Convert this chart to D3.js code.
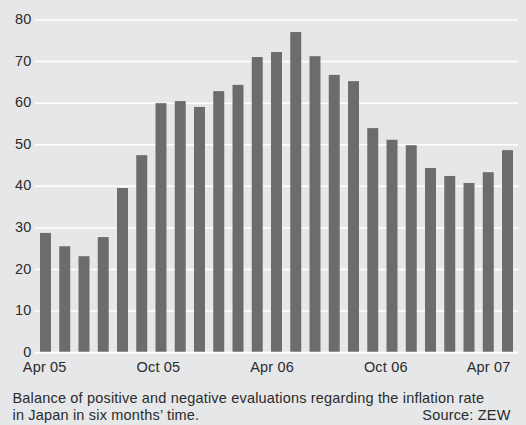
<!DOCTYPE html>
<html>
<head>
<meta charset="utf-8">
<script src="https://cdn.jsdelivr.net/npm/d3@7"></script>
<style>
  html, body { margin: 0; padding: 0; background: #e6e7e9; }
  svg { display: block; }
  text { font-family: "Liberation Sans", Arial, sans-serif; fill: #2b2b2b; letter-spacing: 0.18px; }
</style>
</head>
<body>
<svg id="chart" width="526" height="425"></svg>
<script>
// Monthly survey balance, April 2005 to April 2007
const months = ["2005-04","2005-05","2005-06","2005-07","2005-08","2005-09","2005-10","2005-11","2005-12",
  "2006-01","2006-02","2006-03","2006-04","2006-05","2006-06","2006-07","2006-08","2006-09","2006-10",
  "2006-11","2006-12","2007-01","2007-02","2007-03","2007-04"];
const balance = [28.8, 25.6, 23.2, 27.8, 39.6, 47.5, 60.0, 60.5, 59.1, 62.9, 64.4, 71.1, 72.3, 77.1,
  71.3, 66.8, 65.3, 54.0, 51.2, 49.9, 44.4, 42.5, 40.8, 43.4, 48.7];
const xTickLabels = ["Apr 05", "Oct 05", "Apr 06", "Oct 06", "Apr 07"];
const yTicks = [0, 10, 20, 30, 40, 50, 60, 70, 80];
const captionLines = ["Balance of positive and negative evaluations regarding the inflation rate",
  "in Japan in six months\u2019 time."];
const sourceText = "Source: ZEW";

const svg = d3.select("#chart");
const plot = { left: 35, right: 518, top: 20, bottom: 352.7 };
const fontSize = 14.5;

const x = d3.scaleBand().domain(months).range([40, 513]).paddingInner(0.43).paddingOuter(0);
const y = d3.scaleLinear().domain([0, 80]).range([plot.bottom, plot.top]);

// gridlines
svg.append("g").selectAll("line").data(yTicks).join("line")
  .attr("x1", plot.left).attr("x2", plot.right)
  .attr("y1", d => y(d)).attr("y2", d => y(d))
  .attr("stroke", "#ffffff").attr("stroke-width", d => d === 0 ? 2 : 1.5);

// bars
svg.append("g").selectAll("rect").data(balance).join("rect")
  .attr("x", (d, i) => x(months[i]))
  .attr("width", x.bandwidth())
  .attr("y", d => y(d))
  .attr("height", d => y(0) - y(d) - 1)
  .attr("fill", "#6b6c6e");

// y axis labels
svg.append("g").selectAll("text").data(yTicks).join("text")
  .attr("x", 31.5).attr("y", d => y(d) - 1).attr("dy", "0.35em")
  .attr("text-anchor", "end").attr("font-size", fontSize)
  .text(d => d);

// x axis labels, evenly spaced across the time span
const xl = d3.scalePoint().domain(xTickLabels).range([44.7, 499.5]);
svg.append("g").selectAll("text").data(xTickLabels).join("text")
  .attr("x", (d, i) => i === xTickLabels.length - 1 ? 510.5 : xl(d))
  .attr("y", 371.5)
  .attr("text-anchor", (d, i) => i === xTickLabels.length - 1 ? "end" : "middle")
  .attr("font-size", fontSize)
  .text(d => d);

// caption and source
svg.append("g").selectAll("text").data(captionLines).join("text")
  .attr("x", 12.5).attr("y", (d, i) => 403 + i * 16.5)
  .attr("font-size", fontSize)
  .text(d => d);
svg.append("text")
  .attr("x", 510.5).attr("y", 419.5).attr("text-anchor", "end")
  .attr("font-size", fontSize)
  .text(sourceText);
</script>
</body>
</html>
